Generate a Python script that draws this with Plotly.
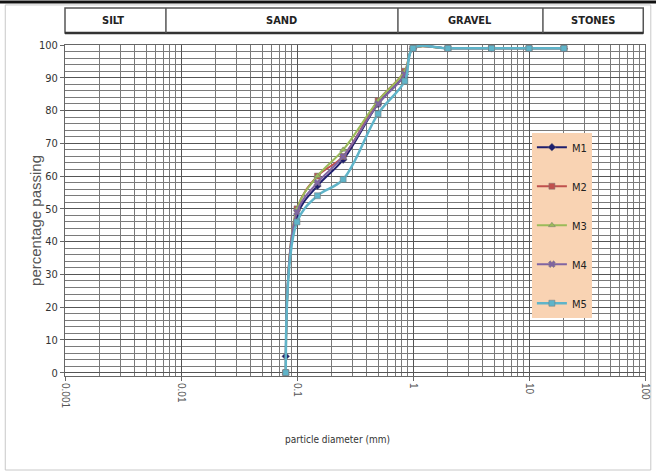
import plotly.graph_objects as go

# ---- data ----
sieve_mm = [0.08, 0.1, 0.15, 0.25, 0.5, 0.85, 1.0, 2.0, 4.75, 10.0, 20.0]
M1 = [5, 48, 57, 65, 82, 91, 99, 99, 99, 99, 99]
M2 = [0, 50, 60, 66, 83, 92, 99, 99, 99, 99, 99]
M3 = [0, 50, 60, 68, 83, 92, 99, 99, 99, 99, 99]
M4 = [0, 49, 58, 66, 82, 91, 99, 99, 99, 99, 99]
M5 = [0, 46, 54, 59, 79, 89, 99, 99, 99, 99, 99]
series_names = ["M1", "M2", "M3", "M4", "M5"]
x_tick_vals = [0.001, 0.01, 0.1, 1, 10, 100]
x_tick_text = ["0.001", "0.01", "0.1", "1", "10", "100"]
zones = ["SILT", "SAND", "GRAVEL", "STONES"]

series = [M1, M2, M3, M4, M5]
colors = ["#1f1f6e", "#c0504d", "#9bbb59", "#8064a2", "#5fb4c9"]
symbols = ["diamond", "square", "triangle-up", "x", "square"]
widths = [2, 2, 2, 2, 2.5]

fig = go.Figure()
for name, ys, c, s, w in zip(series_names, series, colors, symbols, widths):
    fig.add_trace(go.Scatter(
        x=sieve_mm, y=ys, name=name, legendgroup=name,
        mode="lines+markers",
        line=dict(color=c, width=w, shape="spline", smoothing=1),
        marker=dict(symbol=s, size=6, color=c, line=dict(width=0.5, color="#777")),
        cliponaxis=False,
    ))

narrow = "DejaVu Sans Condensed, Liberation Sans Narrow, Arial Narrow, sans-serif"

fig.update_layout(
    width=656, height=475,
    margin=dict(l=65, r=11, t=45, b=99, autoexpand=False),
    paper_bgcolor="white", plot_bgcolor="white",
    showlegend=True,
    legend=dict(x=0.805, y=0.735, xanchor="left", yanchor="top",
                bgcolor="#f9d3b3", borderwidth=0,
                font=dict(family=narrow, size=11, color="#222"),
                tracegroupgap=20, itemwidth=30),
)

fig.update_xaxes(
    type="log", range=[-3, 2], automargin=False,
    tickvals=x_tick_vals, ticktext=x_tick_text, tickangle=90,
    tickfont=dict(family="Liberation Sans, Arial, sans-serif", size=10, color="#555"),
    showgrid=True, gridcolor="#555", gridwidth=1,
    minor=dict(dtick="D1", showgrid=True, gridcolor="#7a7a7a", gridwidth=1),
    ticks="outside", ticklen=4, tickcolor="#666",
    showline=True, linecolor="#666", linewidth=1, mirror=True,
    zeroline=False,
)
fig.update_yaxes(
    range=[-1, 100], tickvals=list(range(0, 101, 10)), automargin=False,
    tickfont=dict(family=narrow, size=11, color="#333"),
    showgrid=True, gridcolor="#555", gridwidth=1,
    minor=dict(dtick=2, tick0=0, showgrid=True, gridcolor="#7a7a7a", gridwidth=1),
    ticks="outside", ticklen=4, tickcolor="#666",
    showline=True, linecolor="#666", linewidth=1, mirror=True,
    zeroline=False,
)

shapes = []
# outer chart border
shapes.append(dict(type="rect", xref="paper", yref="paper", x0=-0.103, x1=1.010,
                   y0=-0.284, y1=1.121, line=dict(color="#c8c8c8", width=1), layer="below"))
# top black line
shapes.append(dict(type="line", xref="paper", yref="paper", x0=-0.115, x1=1.02,
                   y0=1.130, y1=1.130, line=dict(color="#111", width=3)))
# header box
hx = [0.0, 0.174, 0.574, 0.824, 0.997]
hy0, hy1 = 1.036, 1.112
shapes.append(dict(type="rect", xref="paper", yref="paper", x0=hx[0], x1=hx[-1],
                   y0=hy0, y1=hy1, line=dict(color="#555", width=1.5)))
shapes.append(dict(type="line", xref="paper", yref="paper", x0=hx[0], x1=hx[-1],
                   y0=hy0, y1=hy0, line=dict(color="#333", width=2.5)))
for xv in hx[1:-1]:
    shapes.append(dict(type="line", xref="paper", yref="paper", x0=xv, x1=xv,
                       y0=hy0, y1=hy1, line=dict(color="#555", width=1.5)))

annotations = []
zone_x = [0.083, 0.374, 0.698, 0.910]
for z, zx in zip(zones, zone_x):
    annotations.append(dict(text="<b>" + z + "</b>", xref="paper", yref="paper",
                            x=zx, y=(hy0 + hy1) / 2, xanchor="center", yanchor="middle",
                            showarrow=False,
                            font=dict(family=narrow, size=11, color="#222")))
annotations.append(dict(text="particle diameter (mm)", xref="paper", yref="paper",
                        x=0.469, y=-0.193, xanchor="center", yanchor="middle", showarrow=False,
                        font=dict(family=narrow, size=10, color="#333")))
annotations.append(dict(text="percentage passing", xref="paper", yref="paper",
                        x=-0.052, y=0.471, xanchor="center", yanchor="middle",
                        textangle=-90, showarrow=False,
                        font=dict(family="Liberation Sans, Arial, sans-serif", size=15, color="#555")))

fig.update_layout(shapes=shapes, annotations=annotations)

fig.write_html("out.html", config={"displayModeBar": False},
               post_script="document.body.style.margin='0';document.body.style.padding='0';")
